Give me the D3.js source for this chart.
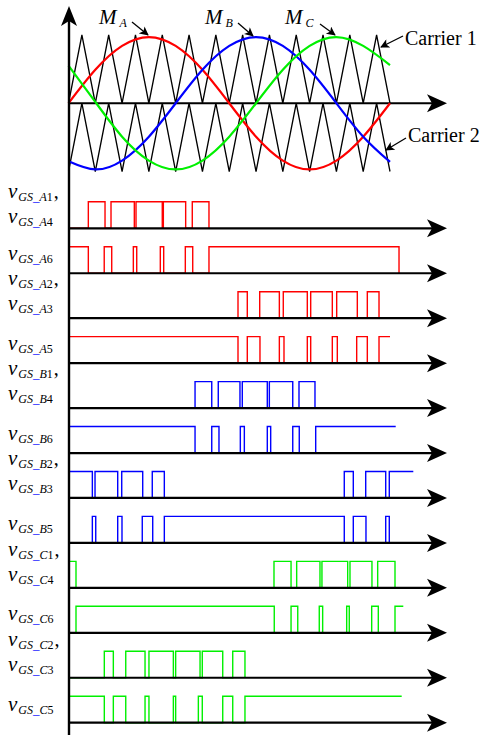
<!DOCTYPE html>
<html><head><meta charset="utf-8">
<script src="https://cdn.jsdelivr.net/npm/d3@7"></script>
<style>html,body{margin:0;padding:0;background:#fff;} svg{display:block;}</style>
</head><body>
<svg id="chart" width="483" height="735"></svg>
<script>
// ---------------- data (angles in electrical degrees) ----------------
const angles = [0,30,60,90,120,150,180,210,240,270,300,330,360];
const modA = [0,0.49,0.84,0.97,0.84,0.49,0,-0.49,-0.84,-0.97,-0.84,-0.49,0];
const modB = [-0.85,-0.97,-0.84,-0.49,0,0.49,0.84,0.97,0.84,0.49,0,-0.49,-0.86];
const modC = [0.55,0.02,-0.49,-0.84,-0.97,-0.84,-0.49,0,0.49,0.84,0.97,0.84,0.56];
const modNames = ["A","B","C"];

const carrierAngles = [0,15,30,45,60,75,90,105,120,135,150,165,180,195,210,225,240,255,270,285,300,315,330,345,360];
const carrier1 = [0,1,0,1,0,1,0,1,0,1,0,1,0,1,0,1,0,1,0,1,0,1,0,1,0];
const carrier2 = [-1,0,-1,0,-1,0,-1,0,-1,0,-1,0,-1,0,-1,0,-1,0,-1,0,-1,0,-1,0,-1];
const carrierNames = ["Carrier 1","Carrier 2"];

const rowLabels = [["A1","A4"],["A6"],["A2","A3"],["A5"],["B1","B4"],["B6"],["B2","B3"],["B5"],["C1","C4"],["C6"],["C2","C3"],["C5"]];
const rowPhase  = ["A","A","A","A","B","B","B","B","C","C","C","C"];
const rowStart  = [0,1,0,1,0,1,1,0,1,0,0,1];
const rowEdges = [
  [22.2,40.9,47.6,73.7,75.6,105.0,106.2,131.2,138.6,157.3],
  [22.2,40.0,48.4,72.6,76.4,102.8,106.6,130.8,139.1,157.3],
  [189.8,200.2,214.1,236.1,240.5,267.4,271.2,295.4,300.3,323.4,334.6,347.7],
  [189.8,200.2,214.4,236.1,241.3,267.4,271.2,295.4,301.0,322.7,334.6,347.7],
  [141.7,160.4,167.7,192.0,194.6,222.6,224.9,251.1,258.1,276.0],
  [141.7,160.4,168.5,192.4,196.9,222.6,226.4,251.1,258.4,276.8],
  [26.7,29.7,55.1,59.6,83.1,93.8,107.3,308.8,318.9,332.8,355.2,359.2],
  [26.7,30.5,55.1,59.9,82.6,94.3,107.3,308.8,318.9,333.1,355.2,359.2],
  [8.4,230.1,249.2,255.5,281.6,283.8,312.6,315.2,339.8,346.2,365.6],
  [8.4,230.4,249.2,256.7,280.8,284.6,311.5,314.4,339.5,346.9,365.6],
  [40.1,50.2,64.1,85.7,90.1,117.4,120.0,147.3,149.8,172.7,183.9,197.6],
  [40.1,50.2,64.1,85.7,90.1,117.4,120.0,145.4,149.8,172.7,183.9,197.6]
];
const rowStop     = [null,370.1,null,360.0,null,366.4,386.1,null,null,374.9,null,373.1];
const rowStopDrop = [false,true,false,false,false,false,false,false,false,false,false,false];

// ---------------- layout ----------------
const svg = d3.select("#chart");
const W = 483, H = 735;
const axisX = 69, axisEnd = 447;
const FONT = "'Liberation Serif','Times New Roman',serif";
const color = d3.scaleOrdinal().domain(modNames).range(["#ff0000","#0000ff","#00f000"]);

const x = d3.scaleLinear().domain([0,360]).range([68.5,390]);
const yTop = d3.scaleLinear().domain([-1,1]).range([171.5,35]);
const yRow = d3.scalePoint().domain(d3.range(rowLabels.length)).range([228.3,722.7]);
const pulseH = 26.5;
// label baseline offsets from each row's axis (layout only)
const labelDy = [[-30,-5],[-13],[-33,-8],[-13],[-33,-8],[-13],[-33,-8],[-13],[-32,-7],[-13],[-32,-7],[-12]];

function arrowRight(g, xt, y){
  g.append("path").attr("d",`M${xt},${y} L${xt-20},${y-9} L${xt-15},${y} L${xt-20},${y+9} Z`).attr("fill","#000");
}
function hAxis(y){
  svg.append("line").attr("x1",axisX).attr("x2",axisEnd-14).attr("y1",y).attr("y2",y)
    .attr("stroke","#000").attr("stroke-width",2.2);
  arrowRight(svg, axisEnd, y);
}

// marker for pointer arrows
const defs = svg.append("defs");
defs.append("marker").attr("id","ah").attr("viewBox","0 0 10 10").attr("refX",9).attr("refY",5)
  .attr("markerWidth",10).attr("markerHeight",9).attr("markerUnits","userSpaceOnUse").attr("orient","auto")
  .append("path").attr("d","M0,0 L10,5 L0,10 L2.5,5 Z").attr("fill","#000");

// ---------------- top panel ----------------
const cLine = d3.line().x((d,i)=>x(carrierAngles[i])).y(d=>yTop(d));
[carrier1, carrier2].forEach(c=>{
  svg.append("path").attr("d",cLine(c)).attr("fill","none").attr("stroke","#000").attr("stroke-width",1.3);
});
hAxis(yTop(0));
const mLine = d3.line().x((d,i)=>x(angles[i])).y(d=>yTop(d)).curve(d3.curveNatural);
[modA, modB, modC].forEach((m,k)=>{
  svg.append("path").attr("d",mLine(m)).attr("fill","none").attr("stroke",color(modNames[k])).attr("stroke-width",2.2);
});

// M labels
const mLab = [{x:99,y:24,tx:132,ty:22,hx:148,hy:35},{x:205,y:24,tx:238,ty:23,hx:253,hy:36},{x:285,y:24,tx:320,ty:24,hx:335,hy:35}];
modNames.forEach((n,k)=>{
  const p = mLab[k];
  const t = svg.append("text").attr("x",p.x).attr("y",p.y).attr("font-family",FONT).attr("font-style","italic");
  t.append("tspan").attr("font-size",21).text("M");
  t.append("tspan").attr("font-size",12).attr("dx",3).attr("dy",3).text(n);
  svg.append("line").attr("x1",p.tx).attr("y1",p.ty).attr("x2",p.hx).attr("y2",p.hy)
    .attr("stroke","#000").attr("stroke-width",1.3).attr("marker-end","url(#ah)");
});
// Carrier labels
const cLab = [{x:405,y:45,tx:403,ty:36,hx:381,hy:47},{x:408,y:142,tx:406,ty:138,hx:386,hy:150}];
carrierNames.forEach((n,k)=>{
  const p = cLab[k];
  svg.append("text").attr("x",p.x).attr("y",p.y).attr("font-family",FONT).attr("font-size",20).text(n);
  svg.append("line").attr("x1",p.tx).attr("y1",p.ty).attr("x2",p.hx).attr("y2",p.hy)
    .attr("stroke","#000").attr("stroke-width",1.3).attr("marker-end","url(#ah)");
});

// ---------------- gate signals ----------------
const stepLine = d3.line().curve(d3.curveStepAfter);
rowLabels.forEach((lab,i)=>{
  const base = yRow(i);
  const lv = v => base - v*pulseH;
  let level = rowStart[i];
  const pts = [[x(0), lv(level)]];
  rowEdges[i].forEach(e=>{ level = 1-level; pts.push([x(e), lv(level)]); });
  if (rowStop[i] !== null) {
    pts.push([x(rowStop[i]), lv(level)]);
    if (rowStopDrop[i]) pts.push([x(rowStop[i]), lv(0)]);
  }
  svg.append("path").attr("d",stepLine(pts)).attr("fill","none")
    .attr("stroke",color(rowPhase[i])).attr("stroke-width",1.4);
  hAxis(base);

  // labels
  lab.forEach((id, j)=>{
    const comma = lab.length === 2 && j === 0;
    const t = svg.append("text").attr("x",8).attr("y",base + labelDy[i][j]).attr("font-family",FONT);
    t.append("tspan").attr("font-style","italic").attr("font-size",21).text("v");
    t.append("tspan").attr("font-style","italic").attr("font-size",12).attr("dy",3).attr("dx",1).text("GS");
    t.append("tspan").attr("font-style","italic").attr("font-size",13).attr("fill","#0000ff").text("_");
    t.append("tspan").attr("font-style","italic").attr("font-size",12).text(id[0]);
    t.append("tspan").attr("font-size",12).text(id.slice(1));
    if (comma) t.append("tspan").attr("font-size",20).attr("dy",-3).attr("dx",1).text(",");
  });
});

// vertical axis
svg.append("line").attr("x1",axisX).attr("x2",axisX).attr("y1",20).attr("y2",H)
  .attr("stroke","#000").attr("stroke-width",2.4);
svg.append("path").attr("d",`M${axisX},6 L${axisX-8},26 L${axisX},21 L${axisX+8},26 Z`).attr("fill","#000");
</script>
</body></html>
